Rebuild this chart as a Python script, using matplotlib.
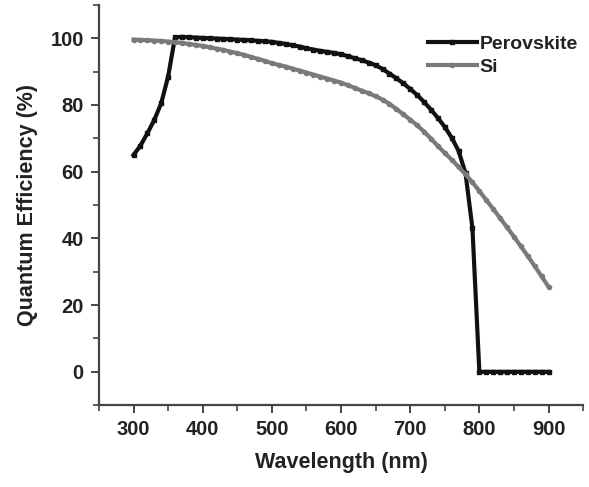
import numpy as np
import matplotlib
matplotlib.use("Agg")
import matplotlib.pyplot as plt
from matplotlib.ticker import MultipleLocator

plt.rcParams['font.family'] = ['Liberation Sans', 'DejaVu Sans']
plt.rcParams['font.weight'] = 'bold'

# wavelength grid (nm), 10 nm steps
wavelength = np.arange(300, 910, 10)

# external quantum efficiency (%) for each cell
perovskite_qe = [
    65.0, 67.8, 71.5, 75.5, 80.5, 88.5, 100.3, 100.4, 100.3, 100.2,
    100.1, 100.0, 99.9, 99.8, 99.7, 99.6, 99.5, 99.4, 99.2, 99.1,
    98.9, 98.6, 98.3, 97.9, 97.5, 97.0, 96.6, 96.2, 95.9, 95.6,
    95.2, 94.6, 94.0, 93.4, 92.7, 91.9, 90.8, 89.4, 88.0, 86.5,
    84.8, 83.0, 80.9, 78.6, 76.1, 73.4, 70.2, 66.2, 59.5, 43.0,
    0.0, 0.0, 0.0, 0.0, 0.0, 0.0, 0.0, 0.0, 0.0, 0.0,
    0.0,
]
si_qe = [
    99.6, 99.5, 99.4, 99.3, 99.2, 99.0, 98.8, 98.6, 98.3, 98.0,
    97.7, 97.3, 96.9, 96.5, 96.0, 95.5, 95.0, 94.4, 93.8, 93.2,
    92.5, 92.0, 91.5, 90.9, 90.3, 89.7, 89.1, 88.5, 87.9, 87.3,
    86.7, 85.9, 85.1, 84.3, 83.5, 82.6, 81.6, 80.3, 78.8, 77.2,
    75.6, 73.9, 72.0, 69.9, 67.7, 65.6, 63.6, 61.4, 59.2, 56.8,
    54.2, 51.5, 48.8, 46.1, 43.3, 40.5, 37.6, 34.7, 31.7, 28.6,
    25.5,
]

fig = plt.figure(figsize=(5.89, 4.87), dpi=100)
ax = fig.add_axes([0.168, 0.168, 0.822, 0.822])

ax.plot(wavelength, perovskite_qe, color='#111111', lw=3.0, marker='s',
        ms=3, label='Perovskite')
ax.plot(wavelength, si_qe, color='#7a7a7a', lw=3.0, marker='o',
        ms=3, label='Si')

ax.set_xlim(250, 950)
ax.set_ylim(-10, 110)
ax.xaxis.set_major_locator(MultipleLocator(100))
ax.xaxis.set_minor_locator(MultipleLocator(50))
ax.yaxis.set_major_locator(MultipleLocator(20))
ax.yaxis.set_minor_locator(MultipleLocator(10))

for side in ['top', 'right']:
    ax.spines[side].set_visible(False)
for side in ['left', 'bottom']:
    ax.spines[side].set_linewidth(1.6)
    ax.spines[side].set_color('#444444')

ax.tick_params(which='major', direction='out', length=6, width=1.4,
               color='#444444', labelsize=14.5, labelcolor='#222222', pad=5)
ax.tick_params(which='minor', direction='out', length=4, width=1.2,
               color='#444444')

ax.set_xlabel('Wavelength (nm)', fontsize=15.5, fontweight='bold',
              color='#222222', labelpad=9)
ax.set_ylabel('Quantum Efficiency (%)', fontsize=15.5, fontweight='bold',
              color='#222222', labelpad=9)

ax.legend(loc='upper left', bbox_to_anchor=(0.68, 0.925), frameon=False,
          borderpad=0, borderaxespad=0, handlelength=2.5, handletextpad=0.15,
          labelspacing=0.3, fontsize=14, labelcolor='#222222')

fig.savefig('out.png', dpi=100)
